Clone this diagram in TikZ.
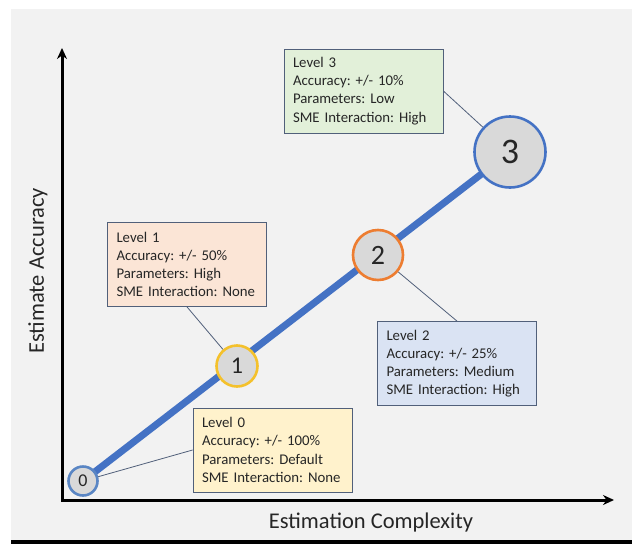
\documentclass[tikz,border=0pt]{standalone}
\usepackage{fontspec}
\setmainfont{Carlito}
\usetikzlibrary{arrows.meta}
\frenchspacing

\definecolor{panelgray}{HTML}{F2F2F2}
\definecolor{textdark}{HTML}{262626}
\definecolor{trackblue}{HTML}{4472C4}
\definecolor{discgray}{HTML}{D9D9D9}
\definecolor{boxedge}{HTML}{51607A}
\definecolor{ringzero}{HTML}{5A86C4}
\definecolor{ringone}{HTML}{F4C12C}
\definecolor{ringtwo}{HTML}{ED7D31}
\definecolor{fillzero}{HTML}{FFF2CC}
\definecolor{fillone}{HTML}{FBE5D6}
\definecolor{filltwo}{HTML}{DAE3F3}
\definecolor{fillthree}{HTML}{E2F0D9}

\tikzset{
  level/.style={circle, draw=#1, line width=2.6pt, fill=discgray, inner sep=0pt, text=textdark},
  infobox/.style={draw=boxedge, line width=0.8pt, fill=#1, text width=141pt, inner xsep=9pt,
    minimum height=84pt, align=left, text=textdark, font=\fontsize{14.8}{18.2}\selectfont},
  leader/.style={draw=boxedge, line width=0.8pt},
  axis/.style={line width=3pt, {Stealth[length=11pt,width=10pt]}-{Stealth[length=11pt,width=10pt]}},
  axislabel/.style={text=textdark, font=\fontsize{22.5}{26}\selectfont}
}

\begin{document}
\begin{tikzpicture}[x=1pt, y=-1pt]
    \useasboundingbox (0,0) rectangle (632,544);
    % Panel
    \fill[panelgray] (11,9) rectangle (632,540);
    \fill[black] (11,540) rectangle (632,544);

    % Axes
    \coordinate (origin) at (62,500);
    \coordinate (ytip) at (62,48);
    \coordinate (xtip) at (614,500);
    \draw[axis] (ytip) -- (origin) -- (xtip);
    \node[axislabel, rotate=90] (ylabel) at (38,271) {Estimate Accuracy};
    \node[axislabel] (xlabel) at (371,522) {Estimation Complexity};

    % Track through the levels
    \coordinate (p0) at (83,481);
    \coordinate (p1) at (237,366);
    \coordinate (p2) at (378,255);
    \coordinate (p3) at (510,152);
    \draw[trackblue, line width=7pt] (p0) -- (p3);

    % Levels
    \node[level=ringzero, minimum size=29pt, font=\fontsize{18}{18}\selectfont] (c0) at (p0) {0};
    \node[level=ringone, minimum size=41pt, font=\fontsize{24}{24}\selectfont] (c1) at (p1) {1};
    \node[level=ringtwo, minimum size=50pt, font=\fontsize{28}{28}\selectfont] (c2) at (p2) {2};
    \node[level=trackblue, minimum size=71pt, font=\fontsize{36}{36}\selectfont] (c3) at (p3) {3};

    % Descriptions
    \node[infobox=fillzero] (l0) at (272.5,450) {Level 0\\Accuracy: +/- 100\%\\Parameters: Default\\SME Interaction: None};
    \node[infobox=fillone] (l1) at (187,264.5) {Level 1\\Accuracy: +/- 50\%\\Parameters: High\\SME Interaction: None};
    \node[infobox=filltwo] (l2) at (457,363.5) {Level 2\\Accuracy: +/- 25\%\\Parameters: Medium\\SME Interaction: High};
    \node[infobox=fillthree] (l3) at (363.5,91) {Level 3\\Accuracy: +/- 10\%\\Parameters: Low\\SME Interaction: High};

    \draw[leader] (l0.west) -- (c0);
    \draw[leader] (l1.south) -- (c1);
    \draw[leader] (l2.north) -- (c2);
    \draw[leader] (l3.east) -- (c3);
\end{tikzpicture}
\end{document}
